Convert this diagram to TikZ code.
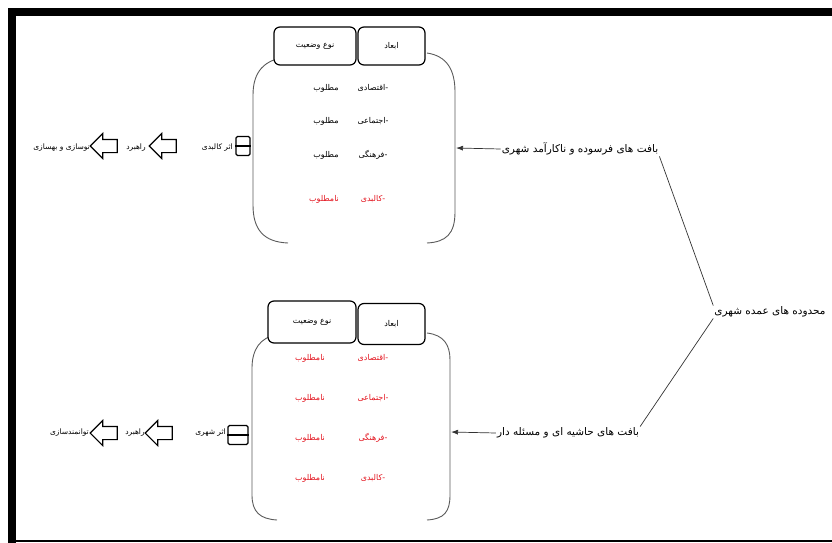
\documentclass[tikz,border=0pt]{standalone}
\usepackage{fontspec}
\newfontfamily\arabicfont[Script=Arabic]{DejaVu Sans}
\TeXXeTstate=1
\usetikzlibrary{shapes.arrows,arrows.meta}
\definecolor{txtred}{HTML}{E3141E}
\definecolor{brkgray}{HTML}{5A5A5A}
\newcommand{\fa}[1]{\beginR #1\endR}
\begin{document}
\begin{tikzpicture}[x=1pt,y=-1pt,
  fa/.style={font=\arabicfont\fontsize{10.5}{12}\selectfont, inner sep=1pt},
  cell/.style={font=\arabicfont\fontsize{8}{10}\selectfont, inner sep=1pt},
  redcell/.style={cell, text=txtred},
  chain/.style={font=\arabicfont\fontsize{7.5}{9}\selectfont, inner sep=1pt},
  hdr/.style={draw, rounded corners=6pt, line width=1.2pt, fill=white, font=\arabicfont\fontsize{8}{10}\selectfont},
  brk/.style={draw=brkgray, line width=0.9pt},
  harrow/.style={single arrow, draw, line width=1.1pt, shape border rotate=180, minimum height=27pt, minimum width=24pt, single arrow head extend=6pt, inner xsep=0pt, inner ysep=6pt},
  icon/.style={draw, line width=1.3pt, rounded corners=1.5pt, minimum width=14pt, minimum height=19pt, inner sep=0pt},
  conn/.style={draw=black!80, line width=0.7pt},
  pointer/.style={conn, -{Latex[length=7pt,width=5pt]}}
]
\useasboundingbox (0,0) rectangle (832,543);
% frame
\fill (8,8) rectangle (832,16);
\fill (8,8) rectangle (16,543);
\draw[line width=1.2pt] (8,541) -- (832,541);

% ---------- top group ----------
\draw[brk] (288,57) .. controls (264,59) and (253,72) .. (253,95) -- (253,205) .. controls (253,230) and (264,242) .. (288,243);
\draw[brk] (427,53) .. controls (447,56) and (455,70) .. (455,92) -- (455,212) .. controls (455,234) and (446,242) .. (427,243);
\node[hdr, minimum width=82pt, minimum height=38pt] (h1a) at (315,46) {\fa{نوع وضعیت}};
\node[hdr, minimum width=67pt, minimum height=38pt] (h1b) at (391.5,46) {\fa{ابعاد}};

\node[cell] (d11) at (373,88) {\fa{-اقتصادی}};
\node[cell] (d12) at (373,121) {\fa{-اجتماعی}};
\node[cell] (d13) at (373,155) {\fa{-فرهنگی}};
\node[redcell] (d14) at (373,199) {\fa{-کالبدی}};
\node[cell] (s11) at (326,88) {\fa{مطلوب}};
\node[cell] (s12) at (326,121) {\fa{مطلوب}};
\node[cell] (s13) at (326,155) {\fa{مطلوب}};
\node[redcell] (s14) at (324,199) {\fa{نامطلوب}};

\coordinate (b1) at (456,148);
\node[fa] (L1) at (580,149) {\fa{بافت های فرسوده و ناکارآمد شهری}};
\draw[pointer] (L1.west) -- (b1);

\node[icon] (ic1) at (243,146) {};
\draw[line width=1.3pt] (ic1.west) -- (ic1.east);
\node[chain, anchor=east] (t1) at (234,148) {\fa{اثر کالبدی}};
\node[harrow] (a1) at (166,146) {};
\node[chain] (t2) at (136,148) {\fa{راهبرد}};
\node[harrow] (a2) at (107,146) {};
\node[chain, anchor=east] (t3) at (91,148) {\fa{نوسازی و بهسازی}};

% ---------- bottom group ----------
\draw[brk] (277,335) .. controls (260,337) and (252,350) .. (252,368) -- (252,495) .. controls (252,512) and (260,519) .. (277,520);
\draw[brk] (427,333) .. controls (444,335) and (450,345) .. (450,360) -- (450,495) .. controls (450,512) and (444,519) .. (427,520);
\node[hdr, minimum width=88pt, minimum height=42pt] (h2a) at (312,322) {\fa{نوع وضعیت}};
\node[hdr, minimum width=67pt, minimum height=41pt] (h2b) at (391.5,324) {\fa{ابعاد}};

\node[redcell] (d21) at (373,358) {\fa{-اقتصادی}};
\node[redcell] (d22) at (373,398) {\fa{-اجتماعی}};
\node[redcell] (d23) at (373,438) {\fa{-فرهنگی}};
\node[redcell] (d24) at (373,478) {\fa{-کالبدی}};
\node[redcell] (s21) at (310,358) {\fa{نامطلوب}};
\node[redcell] (s22) at (310,398) {\fa{نامطلوب}};
\node[redcell] (s23) at (310,438) {\fa{نامطلوب}};
\node[redcell] (s24) at (310,478) {\fa{نامطلوب}};

\coordinate (b2) at (451,432);
\node[fa] (L2) at (568,433) {\fa{بافت های حاشیه ای و مسئله دار}};
\draw[pointer] (L2.west) -- (b2);

\node[icon, minimum width=20pt] (ic2) at (238,435) {};
\draw[line width=1.3pt] (ic2.west) -- (ic2.east);
\node[chain, anchor=east] (t4) at (227,433) {\fa{اثر شهری}};
\node[harrow] (a3) at (162,433) {};
\node[chain] (t5) at (135,433) {\fa{راهبرد}};
\node[harrow] (a4) at (107,433) {};
\node[chain, anchor=east] (t6) at (90,433) {\fa{توانمندسازی}};

% ---------- right ----------
\node[fa] (R) at (770,312) {\fa{محدوده های عمده شهری}};
\draw[conn] (R.north west) -- (L1.south east);
\draw[conn] (R.south west) -- (L2.north east);
\end{tikzpicture}
\end{document}
